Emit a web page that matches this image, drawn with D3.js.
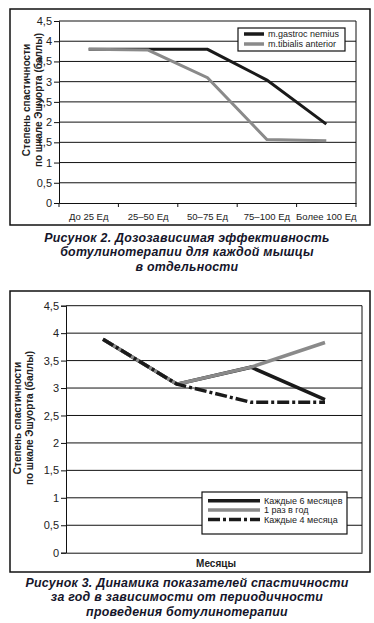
<!DOCTYPE html>
<html>
<head>
<meta charset="utf-8">
<script src="https://cdn.jsdelivr.net/npm/d3@7"></script>
<style>
  body { margin: 0; background: #fff; }
  svg text { font-family: "Liberation Sans", Arial, sans-serif; }
</style>
</head>
<body>
<svg id="fig" width="374" height="623"></svg>
<script>
// figure 2 data
const doseCats = ['До 25 Ед', '25–50 Ед', '50–75 Ед', '75–100 Ед', 'Более 100 Ед'];
const gastroc = [3.8, 3.8, 3.8, 3.04, 1.95];
const tibialis = [3.8, 3.78, 3.1, 1.57, 1.54];
const doseNames = ['m.gastroc nemius', 'm.tibialis anterior'];

// figure 3 data
const monthCats = ['1', '2', '3', '4'];
const every6 = [3.89, 3.07, 3.38, 2.79];
const once = [3.89, 3.07, 3.38, 3.83];
const every4 = [3.89, 3.07, 2.74, 2.74];
const monthNames = ['Каждые 6 месяцев', '1 раз в год', 'Каждые 4 месяца'];

const yTicks = [0, 0.5, 1, 1.5, 2, 2.5, 3, 3.5, 4, 4.5];
const yLabel = ['Степень спастичности', 'по шкале Эшуорта (баллы)'];

const svg = d3.select('#fig');
const commaFmt = d => String(d).replace('.', ',');

function drawChart(cfg) {
    const g = svg.append('g');
    // outer frame
    g.append('rect')
        .attr('x', cfg.frame[0]).attr('y', cfg.frame[1])
        .attr('width', cfg.frame[2] - cfg.frame[0])
        .attr('height', cfg.frame[3] - cfg.frame[1])
        .attr('fill', 'none').attr('stroke', '#111').attr('stroke-width', 1.5);

    const x = d3.scaleBand().domain(cfg.cats).range([cfg.plot.left, cfg.plot.right]);
    const y = d3.scaleLinear().domain([0, 4.5]).range([cfg.plot.bottom, cfg.plot.top]);

    // gridlines
    g.append('g').selectAll('line').data(yTicks.filter(t => t > 0)).join('line')
        .attr('x1', cfg.plot.left).attr('x2', cfg.plot.right)
        .attr('y1', d => y(d)).attr('y2', d => y(d))
        .attr('stroke', '#111').attr('stroke-width', 1);
    // right border of plot
    g.append('line')
        .attr('x1', cfg.plot.right).attr('x2', cfg.plot.right)
        .attr('y1', y(4.5)).attr('y2', y(0))
        .attr('stroke', '#111').attr('stroke-width', 1);

    // y axis
    const yAxis = g.append('g')
        .attr('transform', 'translate(' + cfg.plot.left + ',0)')
        .call(d3.axisLeft(y).tickValues(yTicks).tickFormat(commaFmt).tickSize(5).tickPadding(2));
    yAxis.select('.domain').attr('stroke', '#111');
    yAxis.selectAll('.tick line').attr('stroke', '#111');
    yAxis.selectAll('text').attr('font-size', 11).attr('fill', '#222');

    // x axis
    const xAxis = g.append('g')
        .attr('transform', 'translate(0,' + cfg.plot.bottom + ')')
        .call(d3.axisBottom(x).tickSize(0).tickPadding(cfg.showCats ? 10 : 0)
            .tickFormat(cfg.showCats ? (d => d) : () => ''));
    xAxis.select('.domain').attr('stroke', '#111');
    xAxis.selectAll('text').attr('font-size', 9.5).attr('fill', '#222');
    if (cfg.showCats) {
        // category separators
        g.append('g').selectAll('line').data(cfg.cats.concat(['end'])).join('line')
            .attr('x1', (d, i) => cfg.plot.left + i * x.bandwidth())
            .attr('x2', (d, i) => cfg.plot.left + i * x.bandwidth())
            .attr('y1', cfg.plot.bottom).attr('y2', cfg.plot.bottom + 4)
            .attr('stroke', '#111');
    }

    // axis titles
    const lab = g.append('text')
        .attr('transform', 'translate(' + cfg.ylab[0] + ',' + cfg.ylab[1] + ') rotate(-90)')
        .attr('text-anchor', 'middle')
        .attr('font-size', 10).attr('font-weight', 'bold').attr('fill', '#222');
    lab.append('tspan').attr('x', 0).attr('dy', 0).text(yLabel[0]);
    lab.append('tspan').attr('x', 0).attr('dy', 11.5).text(yLabel[1]);
    if (cfg.xTitle) {
        g.append('text').attr('x', cfg.xTitle[1]).attr('y', cfg.xTitle[2])
            .attr('text-anchor', 'middle').attr('font-size', 10).attr('font-weight', 'bold')
            .attr('fill', '#222').text(cfg.xTitle[0]);
    }

    // series lines
    const line = d3.line()
        .x((d, i) => x(cfg.cats[i]) + x.bandwidth() / 2)
        .y(d => y(d));
    cfg.series.forEach(s => {
        g.append('path').datum(s.values)
            .attr('d', line)
            .attr('fill', 'none')
            .attr('stroke', s.color).attr('stroke-width', s.width)
            .attr('stroke-dasharray', s.dash || null)
            .attr('stroke-linejoin', 'miter');
    });

    // legend
    const L = cfg.legend;
    g.append('rect').attr('x', L.x).attr('y', L.y).attr('width', L.w).attr('height', L.h)
        .attr('fill', '#fff').attr('stroke', '#111').attr('stroke-width', 1.2);
    cfg.series.forEach((s, i) => {
        const yy = L.y + L.pad + i * L.step;
        g.append('line').attr('x1', L.x + 6).attr('x2', L.x + 6 + L.sample)
            .attr('y1', yy).attr('y2', yy)
            .attr('stroke', s.color).attr('stroke-width', 3.5)
            .attr('stroke-dasharray', s.dash || null);
        g.append('text').attr('x', L.x + 10 + L.sample).attr('y', yy + 3.3)
            .attr('font-size', 9).attr('fill', '#222').text(s.name);
    });

    // caption, one text per line
    cfg.caption.forEach((c, i) => {
        g.append('text').attr('text-anchor', 'middle')
            .attr('x', 187).attr('y', cfg.capY + i * cfg.capStep)
            .attr('font-size', 12.4).attr('font-weight', 'bold').attr('font-style', 'italic')
            .attr('letter-spacing', 0.25)
            .attr('fill', '#15152a').text(c);
    });
}

drawChart({
    frame: [10, 9, 370, 225],
    plot: { left: 59, right: 356, top: 21, bottom: 203 },
    cats: doseCats,
    showCats: true,
    ylab: [30, 100],
    series: [
        { name: doseNames[0], values: gastroc, color: '#1a1a1a', width: 3 },
        { name: doseNames[1], values: tibialis, color: '#8a8a8a', width: 3 }
    ],
    legend: { x: 238, y: 28, w: 107, h: 23, pad: 6, step: 10, sample: 20 },
    caption: ['Рисунок 2. Дозозависимая эффективность',
              'ботулинотерапии для каждой мышцы',
              'в отдельности'],
    capY: 242, capStep: 14.4
});

drawChart({
    frame: [10, 291, 370, 572],
    plot: { left: 66, right: 362, top: 305.7, bottom: 552.7 },
    cats: monthCats,
    showCats: false,
    ylab: [21, 418],
    xTitle: ['Месяцы', 216, 567],
    series: [
        { name: monthNames[0], values: every6, color: '#1a1a1a', width: 3.5 },
        { name: monthNames[1], values: once, color: '#8a8a8a', width: 3.5 },
        { name: monthNames[2], values: every4, color: '#1a1a1a', width: 3.5, dash: '12,3,3,3' }
    ],
    legend: { x: 202, y: 492, w: 145, h: 42, pad: 8.7, step: 9.4, sample: 52 },
    caption: ['Рисунок 3. Динамика показателей спастичности',
              'за год в зависимости от периодичности',
              'проведения ботулинотерапии'],
    capY: 587, capStep: 14.4
});
</script>
</body>
</html>
